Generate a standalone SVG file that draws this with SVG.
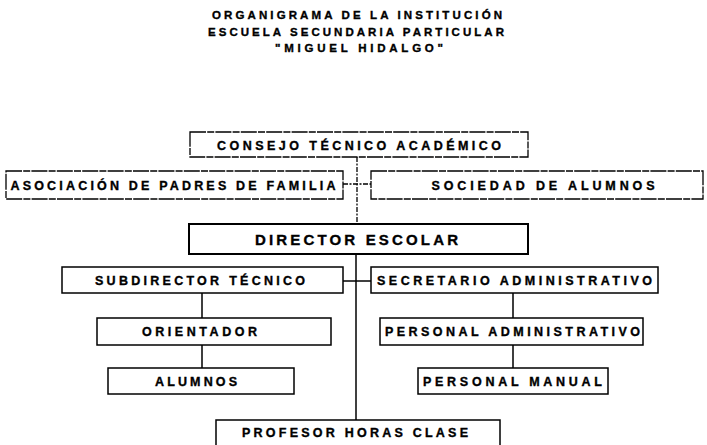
<svg xmlns="http://www.w3.org/2000/svg" width="707" height="445" viewBox="0 0 707 445">
<style>
text{font-family:"Liberation Sans",Arial,sans-serif;font-weight:bold;fill:#000;stroke:#000;stroke-width:0.35;text-anchor:middle}
.t{font-size:11.5px}
.l{font-size:12.5px}
.big{font-size:15px}
.box{fill:#fff;stroke:#000;stroke-width:1.5}
.adv{fill:#fff;stroke:#000;stroke-width:1.3;stroke-dasharray:16 1.2 7 1.2}
.dir{fill:#fff;stroke:#000;stroke-width:2}
.c{stroke:#000;stroke-width:1.5;fill:none}
.cd{stroke:#000;stroke-width:1.3;fill:none;stroke-dasharray:5 1.5 2 1.5}
</style>
<rect width="707" height="445" fill="#fff"/>
<g id="title">
<text class="t" x="357" y="19" textLength="290" lengthAdjust="spacing">ORGANIGRAMA DE LA INSTITUCIÓN</text>
<text class="t" x="356" y="36" textLength="296" lengthAdjust="spacing">ESCUELA SECUNDARIA PARTICULAR</text>
<text class="t" x="359" y="52" textLength="168" lengthAdjust="spacing">"MIGUEL HIDALGO"</text>
</g>
<g id="connectors">
<path class="cd" d="M357 157V224"/>
<path class="cd" d="M343 184H371"/>
<path class="c" d="M356 254V420"/>
<path class="c" d="M343 281H371"/>
<path class="c" d="M202 293V318M202 345V368"/>
<path class="c" d="M513 293V318M513 345V368"/>
</g>
<g id="consejo">
<rect class="adv" x="190" y="132" width="338" height="25"/>
<text class="l" x="359" y="149.5" textLength="284" lengthAdjust="spacing">CONSEJO TÉCNICO ACADÉMICO</text>
</g>
<g id="asociacion">
<rect class="adv" x="6" y="171" width="337" height="28"/>
<text class="l" x="173" y="189.5" textLength="325" lengthAdjust="spacing">ASOCIACIÓN DE PADRES DE FAMILIA</text>
</g>
<g id="sociedad">
<rect class="adv" x="371" y="171" width="332" height="28"/>
<text class="l" x="543" y="189.5" textLength="223" lengthAdjust="spacing">SOCIEDAD DE ALUMNOS</text>
</g>
<g id="director">
<rect class="dir" x="189" y="224" width="339" height="30"/>
<text class="big" x="356.5" y="244.5" textLength="203" lengthAdjust="spacing">DIRECTOR ESCOLAR</text>
</g>
<g id="subdirector">
<rect class="box" x="62" y="267" width="281" height="26"/>
<text class="l" x="200" y="285" textLength="210" lengthAdjust="spacing">SUBDIRECTOR TÉCNICO</text>
</g>
<g id="secretario">
<rect class="box" x="371" y="267" width="287" height="26"/>
<text class="l" x="514.5" y="285" textLength="275" lengthAdjust="spacing">SECRETARIO ADMINISTRATIVO</text>
</g>
<g id="orientador">
<rect class="box" x="97" y="318" width="234" height="27"/>
<text class="l" x="199.5" y="336" textLength="115" lengthAdjust="spacing">ORIENTADOR</text>
</g>
<g id="personal-administrativo">
<rect class="box" x="380" y="318" width="263" height="27"/>
<text class="l" x="512.5" y="336" textLength="255" lengthAdjust="spacing">PERSONAL ADMINISTRATIVO</text>
</g>
<g id="alumnos">
<rect class="box" x="108" y="368" width="186" height="26"/>
<text class="l" x="196" y="385.5" textLength="82" lengthAdjust="spacing">ALUMNOS</text>
</g>
<g id="personal-manual">
<rect class="box" x="418" y="368" width="190" height="26"/>
<text class="l" x="512.5" y="385.5" textLength="179" lengthAdjust="spacing">PERSONAL MANUAL</text>
</g>
<g id="profesor">
<rect class="box" x="216" y="420" width="284" height="32"/>
<text class="l" x="355" y="437" textLength="226" lengthAdjust="spacing">PROFESOR HORAS CLASE</text>
</g>
</svg>
